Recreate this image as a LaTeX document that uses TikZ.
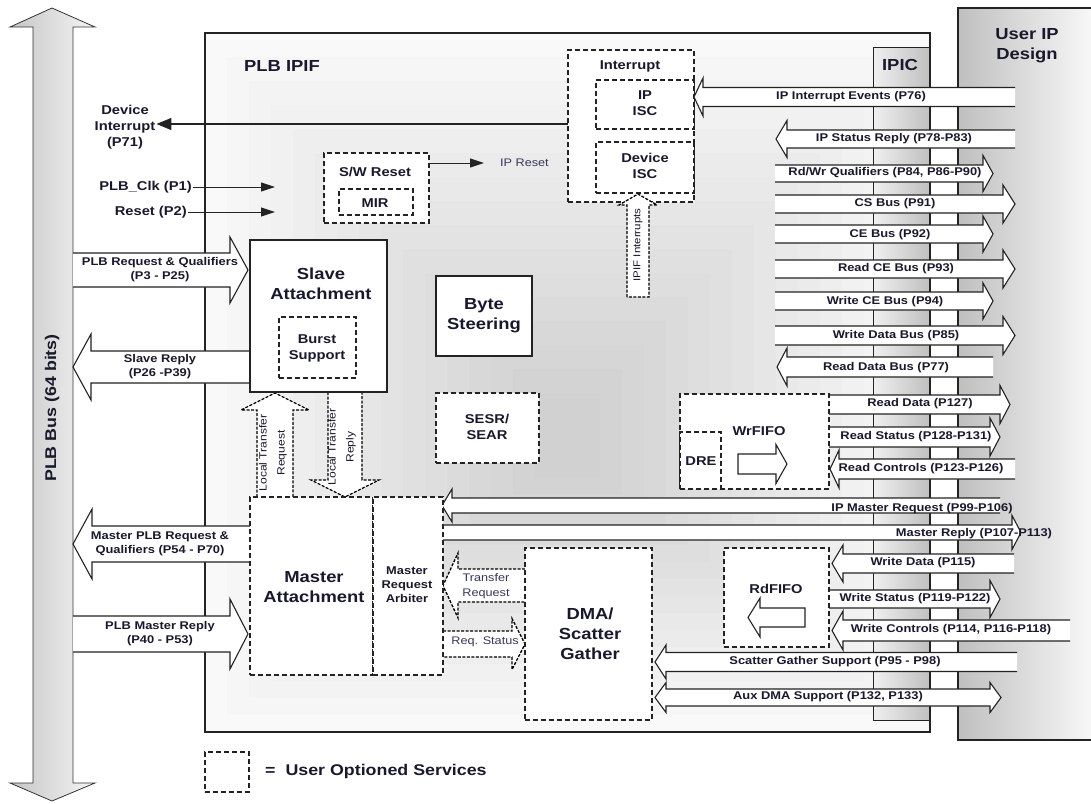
\documentclass[tikz,border=0pt]{standalone}
\usepackage{fontspec}
\setmainfont{Liberation Sans}[FakeStretch=1.15]
\usetikzlibrary{arrows.meta}
\definecolor{txt}{RGB}{25,25,45}
\definecolor{rtxt}{RGB}{55,55,90}
\definecolor{ln}{RGB}{35,35,35}
\tikzset{
  big/.style={font=\bfseries\fontsize{16}{20}\selectfont, align=center, text=txt, inner sep=1pt},
  med/.style={font=\bfseries\fontsize{12.8}{16}\selectfont, align=center, text=txt, inner sep=1pt},
  sml/.style={font=\bfseries\fontsize{11.2}{14}\selectfont, align=center, text=txt, inner sep=1pt},
  reg/.style={font=\fontsize{11}{15}\selectfont, align=center, text=rtxt, inner sep=1pt},
  rot/.style={font=\fontsize{10.5}{18}\selectfont, align=center, text=txt, inner sep=1pt, rotate=90},
  optbox/.style={draw=ln, line width=1.6pt, dash pattern=on 5pt off 3pt, fill=white},
  solbox/.style={draw=ln, line width=1.4pt, fill=white},
  barline/.style={draw=ln, line width=1.1pt},
  dbar/.style={draw=black, dash pattern=on 3pt off 1.5pt, line width=1.3pt},
  sarrow/.style={draw=ln, line width=1pt, -{Triangle[length=14pt,width=9pt]}},
}
% box node: name, style, x1, y1, x2, y2
\newcommand\bx[6]{\node[#2, anchor=north west, inner sep=0pt, outer sep=0pt, minimum width=#5pt-#3pt, minimum height=#6pt-#4pt] (#1) at (#3,#4) {};}
% right block arrow: [style]{xleft}{xtip}{yc}{shaft half}{head half}{head length}{end}
\newcommand\fatR[8][]{%
  \fill[white] (#2,#4-#5) -- (#3-#7,#4-#5) -- (#3-#7,#4-#6) -- (#3,#4) -- (#3-#7,#4+#6) -- (#3-#7,#4+#5) -- (#2,#4+#5) -- cycle;
  \draw[barline,#1] (#2,#4-#5) -- (#3-#7,#4-#5) -- (#3-#7,#4-#6) -- (#3,#4) -- (#3-#7,#4+#6) -- (#3-#7,#4+#5) -- (#2,#4+#5) #8;
}
% left block arrow: [style]{xtip}{xright}{yc}{shaft half}{head half}{head length}{end}
\newcommand\fatL[8][]{%
  \fill[white] (#3,#4-#5) -- (#2+#7,#4-#5) -- (#2+#7,#4-#6) -- (#2,#4) -- (#2+#7,#4+#6) -- (#2+#7,#4+#5) -- (#3,#4+#5) -- cycle;
  \draw[barline,#1] (#3,#4-#5) -- (#2+#7,#4-#5) -- (#2+#7,#4-#6) -- (#2,#4) -- (#2+#7,#4+#6) -- (#2+#7,#4+#5) -- (#3,#4+#5) #8;
}
% double block arrow
\newcommand\fatLR[7][]{%
  \filldraw[fill=white,barline,#1] (#2,#4) -- (#2+#7,#4-#6) -- (#2+#7,#4-#5) -- (#3-#7,#4-#5) -- (#3-#7,#4-#6) -- (#3,#4) -- (#3-#7,#4+#6) -- (#3-#7,#4+#5) -- (#2+#7,#4+#5) -- (#2+#7,#4+#6) -- cycle;
}
% up block arrow: [style]{xc}{ytip}{ybottom}{sh}{hh}{hl}{end}
\newcommand\fatU[8][]{%
  \fill[white] (#2-#5,#4) -- (#2-#5,#3+#7) -- (#2-#6,#3+#7) -- (#2,#3) -- (#2+#6,#3+#7) -- (#2+#5,#3+#7) -- (#2+#5,#4) -- cycle;
  \draw[barline,#1] (#2-#5,#4) -- (#2-#5,#3+#7) -- (#2-#6,#3+#7) -- (#2,#3) -- (#2+#6,#3+#7) -- (#2+#5,#3+#7) -- (#2+#5,#4) #8;
}
% down block arrow: [style]{xc}{ytop}{ytip}{sh}{hh}{hl}{end}
\newcommand\fatD[8][]{%
  \fill[white] (#2-#5,#3) -- (#2-#5,#4-#7) -- (#2-#6,#4-#7) -- (#2,#4) -- (#2+#6,#4-#7) -- (#2+#5,#4-#7) -- (#2+#5,#3) -- cycle;
  \draw[barline,#1] (#2-#5,#3) -- (#2-#5,#4-#7) -- (#2-#6,#4-#7) -- (#2,#4) -- (#2+#6,#4-#7) -- (#2+#5,#4-#7) -- (#2+#5,#3) #8;
}
\begin{document}
\begin{tikzpicture}[x=1pt,y=-1pt]
\useasboundingbox (0,0) rectangle (1091,803);
% ---------- IPIF background ----------
\foreach \i in {0,...,15}{
  \pgfmathsetmacro\g{5+\i*2.1}
  \fill[gray!\g] ({205+\i*22},{33+\i*24}) rectangle ({930-\i*22},{732-\i*17});
}
\shadedraw[left color=gray!12, right color=gray!50, draw=ln, line width=0.8pt] (873,47) rectangle (930,720);
\draw[ln, line width=1.5pt] (205,33) rectangle (930,732);
% ---------- User IP ----------
\shade[left color=gray!50, right color=gray!6] (958,8) rectangle (1091,740);
\draw[ln, line width=1.4pt] (1091,8) -- (958,8) -- (958,740) -- (1091,740);
% ---------- PLB bus ----------
\shadedraw[left color=gray!45, right color=gray!8, draw=gray!40!black, line width=0.8pt]
  (52,8) -- (95,27) -- (73,27) -- (73,783) -- (95,783) -- (52,801) -- (10,783) -- (33,783) -- (33,27) -- (10,27) -- cycle;
\node[rotate=90, font=\bfseries\fontsize{15.5}{18}\selectfont, text=txt] (plbbus) at (52,408) {PLB Bus (64 bits)};
% ---------- titles ----------
\node[big, anchor=west] (ipif) at (243,66) {PLB IPIF};
\node[big] (ipic) at (900,65) {IPIC};
\node[big] (userip) at (1027,46) {User IP\\Design};
% ---------- boxes (not abutting arrows) ----------
\bx{intr}{optbox}{568}{50}{694}{202}
\bx{ipisc}{optbox}{596}{80}{694}{129}
\bx{devisc}{optbox}{596}{142}{694}{193}
\bx{swr}{optbox}{324}{153}{429}{223}
\bx{mir}{optbox}{339}{189}{413}{215}
\bx{byte}{solbox}{436}{276}{532}{356}
\bx{sesr}{optbox}{436}{393}{539}{463}
\bx{legend}{optbox}{205}{752}{249}{792}
% ---------- IPIC bus arrows ----------
\fatL{694}{1015}{97}{9.5}{19}{9}{}
\fatL{776}{1015}{139}{9}{18.5}{11}{}
\fatR{775}{993}{173.5}{8.5}{18}{10}{}
\fatR{775}{1015}{204}{9}{19}{12}{}
\fatR{775}{993}{234}{9}{18}{10}{}
\fatR{775}{1015}{269}{9}{19}{12}{}
\fatR{775}{993}{301}{9}{18}{10}{}
\fatR{775}{1015}{335.5}{9.5}{19}{12}{}
\fatL{777}{993}{367}{10}{19}{10}{}
\fatR{829}{1010}{404.5}{9.5}{19}{10}{}
\fatR{829}{1000}{437}{10}{19}{10}{}
\fatL{830}{1015}{469}{10}{19}{9}{}
\fatL{442}{1000}{505.5}{7.5}{16.5}{10}{}
\fatR{442}{1021}{532.5}{7.5}{17}{9}{}
\fatL{832}{1014}{563.5}{9.5}{18.5}{11}{}
\fatR{829}{1000}{599}{9}{18.5}{10}{}
\fatL{832}{1070}{630.5}{10.5}{19.5}{11}{}
\fatL{655}{1017}{662}{9.5}{17}{11}{}
\fatLR{655}{1001}{697.5}{8.5}{15}{11}
% ---------- PLB side arrows ----------
\fatR{73}{248}{270}{17}{33}{18}{}
\fatL{73}{250}{367}{16}{33}{18}{}
\fatL{73}{250}{544}{18}{35}{19}{}
\fatR{73}{248}{634}{18}{35}{18}{}
% ---------- dashed internal arrows ----------
\fatU[dbar]{638}{194}{297}{11}{19}{11}{-- cycle}
\fatU[dbar]{275}{393}{497}{18}{34}{17}{}
\fatD[dbar]{345}{392}{497}{17}{34}{17}{}
\fatL[dbar]{443}{525}{585.5}{16.5}{32.5}{15}{}
\fatR[dbar]{443}{525}{644}{13}{25.5}{13}{}
% ---------- boxes abutting arrows ----------
\bx{slave}{solbox}{250}{240}{387}{392}
\bx{burst}{optbox}{279}{317}{356}{378}
\bx{wrfifo}{optbox}{680}{394}{829}{489}
\bx{dre}{optbox}{680}{432}{721}{489}
\bx{rdfifo}{optbox}{724}{548}{829}{647}
\bx{dma}{optbox}{525}{548}{652}{720}
\bx{master}{optbox}{250}{497}{373}{675}
\bx{arb}{optbox}{373}{497}{443}{675}
% ---------- FIFO inner arrows ----------
\fatR{738}{787}{464}{10}{19.5}{11}{-- cycle}
\fatL{748}{805}{617.5}{9.5}{19.5}{12}{-- cycle}
% ---------- box texts ----------
\node[med] (tintr) at (630,66) {Interrupt};
\node[med] (tipisc) at (645,103) {IP\\ISC};
\node[med] (tdevisc) at (645,166) {Device\\ISC};
\node[med] (tswr) at (375,172) {S/W Reset};
\node[med] (tmir) at (375,203) {MIR};
\node[big] (tslave) at (321,284) {Slave\\Attachment};
\node[med] (tburst) at (317,348) {Burst\\Support};
\node[big] (tbyte) at (484,316) {Byte\\Steering};
\node[med] (tsesr) at (487,427) {SESR/\\SEAR};
\node[med] (twrfifo) at (759,431) {WrFIFO};
\node[med] (tdre) at (701,461) {DRE};
\node[med] (trdfifo) at (776,589) {RdFIFO};
\node[big] (tdma) at (590,634) {DMA/\\Scatter\\Gather};
\node[big] (tmaster) at (314,587) {Master\\Attachment};
\node[sml] (tarb) at (407,585) {Master\\Request\\Arbiter};
\node[big, anchor=west, font=\bfseries\fontsize{15.5}{18}\selectfont] (tlegend) at (264,771) {=\ \ User Optioned Services};
% ---------- arrow labels ----------
\node[sml] (l1) at (851,97) {IP Interrupt Events (P76)};
\node[sml] (l2) at (894,139) {IP Status Reply (P78-P83)};
\node[sml] (l3) at (885,173) {Rd/Wr Qualifiers (P84, P86-P90)};
\node[sml] (l4) at (895,204) {CS Bus (P91)};
\node[sml] (l5) at (890,235) {CE Bus (P92)};
\node[sml] (l6) at (896,269) {Read CE Bus (P93)};
\node[sml] (l7) at (885,302) {Write CE Bus (P94)};
\node[sml] (l8) at (896,336) {Write Data Bus (P85)};
\node[sml] (l9) at (886,368) {Read Data Bus (P77)};
\node[sml] (l10) at (920,404) {Read Data (P127)};
\node[sml] (l11) at (916,437) {Read Status (P128-P131)};
\node[sml] (l12) at (921,469) {Read Controls (P123-P126)};
\node[sml] (l13) at (922,509) {IP Master Request (P99-P106)};
\node[sml] (l14) at (974,534) {Master Reply (P107-P113)};
\node[sml] (l15) at (923,563) {Write Data (P115)};
\node[sml] (l16) at (915,599) {Write Status (P119-P122)};
\node[sml] (l17) at (951,630) {Write Controls (P114, P116-P118)};
\node[sml] (l18) at (835,662) {Scatter Gather Support (P95 - P98)};
\node[sml] (l19) at (828,697) {Aux DMA Support (P132, P133)};
\node[sml] (l20) at (160,270) {PLB Request \& Qualifiers\\(P3 - P25)};
\node[sml] (l21) at (160,367) {Slave Reply\\(P26 -P39)};
\node[sml] (l22) at (160,544) {Master PLB Request \&\\Qualifiers (P54 - P70)};
\node[sml] (l23) at (160,634) {PLB Master Reply\\(P40 - P53)};
\node[rot, font=\fontsize{10}{12}\selectfont] (ipifint) at (638,245) {IPIF Interrupts};
\node[rot] (ltreq) at (273,453) {Local Transfer\\Request};
\node[rot] (ltrep) at (342,447) {Local Transfer\\Reply};
\node[reg] (treq) at (486,586) {Transfer\\Request};
\node[reg] (rstat) at (485,642) {Req. Status};
% ---------- thin arrows ----------
\node[med] (devint) at (125,127) {Device\\Interrupt\\(P71)};
\coordinate (dis) at (568,124);
\draw[ln, line width=1.3pt, -{Triangle[length=15pt,width=12pt]}] (dis) -- (devint.east |- dis);
\node[med, anchor=east] (clk) at (193,187) {PLB\_Clk (P1)};
\coordinate (clke) at (275,187);
\draw[sarrow] (clk.east) -- (clke);
\node[med, anchor=east] (rst) at (188,212) {Reset (P2)};
\coordinate (rste) at (275,212);
\draw[sarrow] (rst.east) -- (rste);
\node[reg, anchor=west] (iprst) at (499,163) {IP Reset};
\coordinate (iprt) at (484,163);
\draw[sarrow] (swr.east |- iprst.west) -- (iprt);
\end{tikzpicture}
\end{document}
